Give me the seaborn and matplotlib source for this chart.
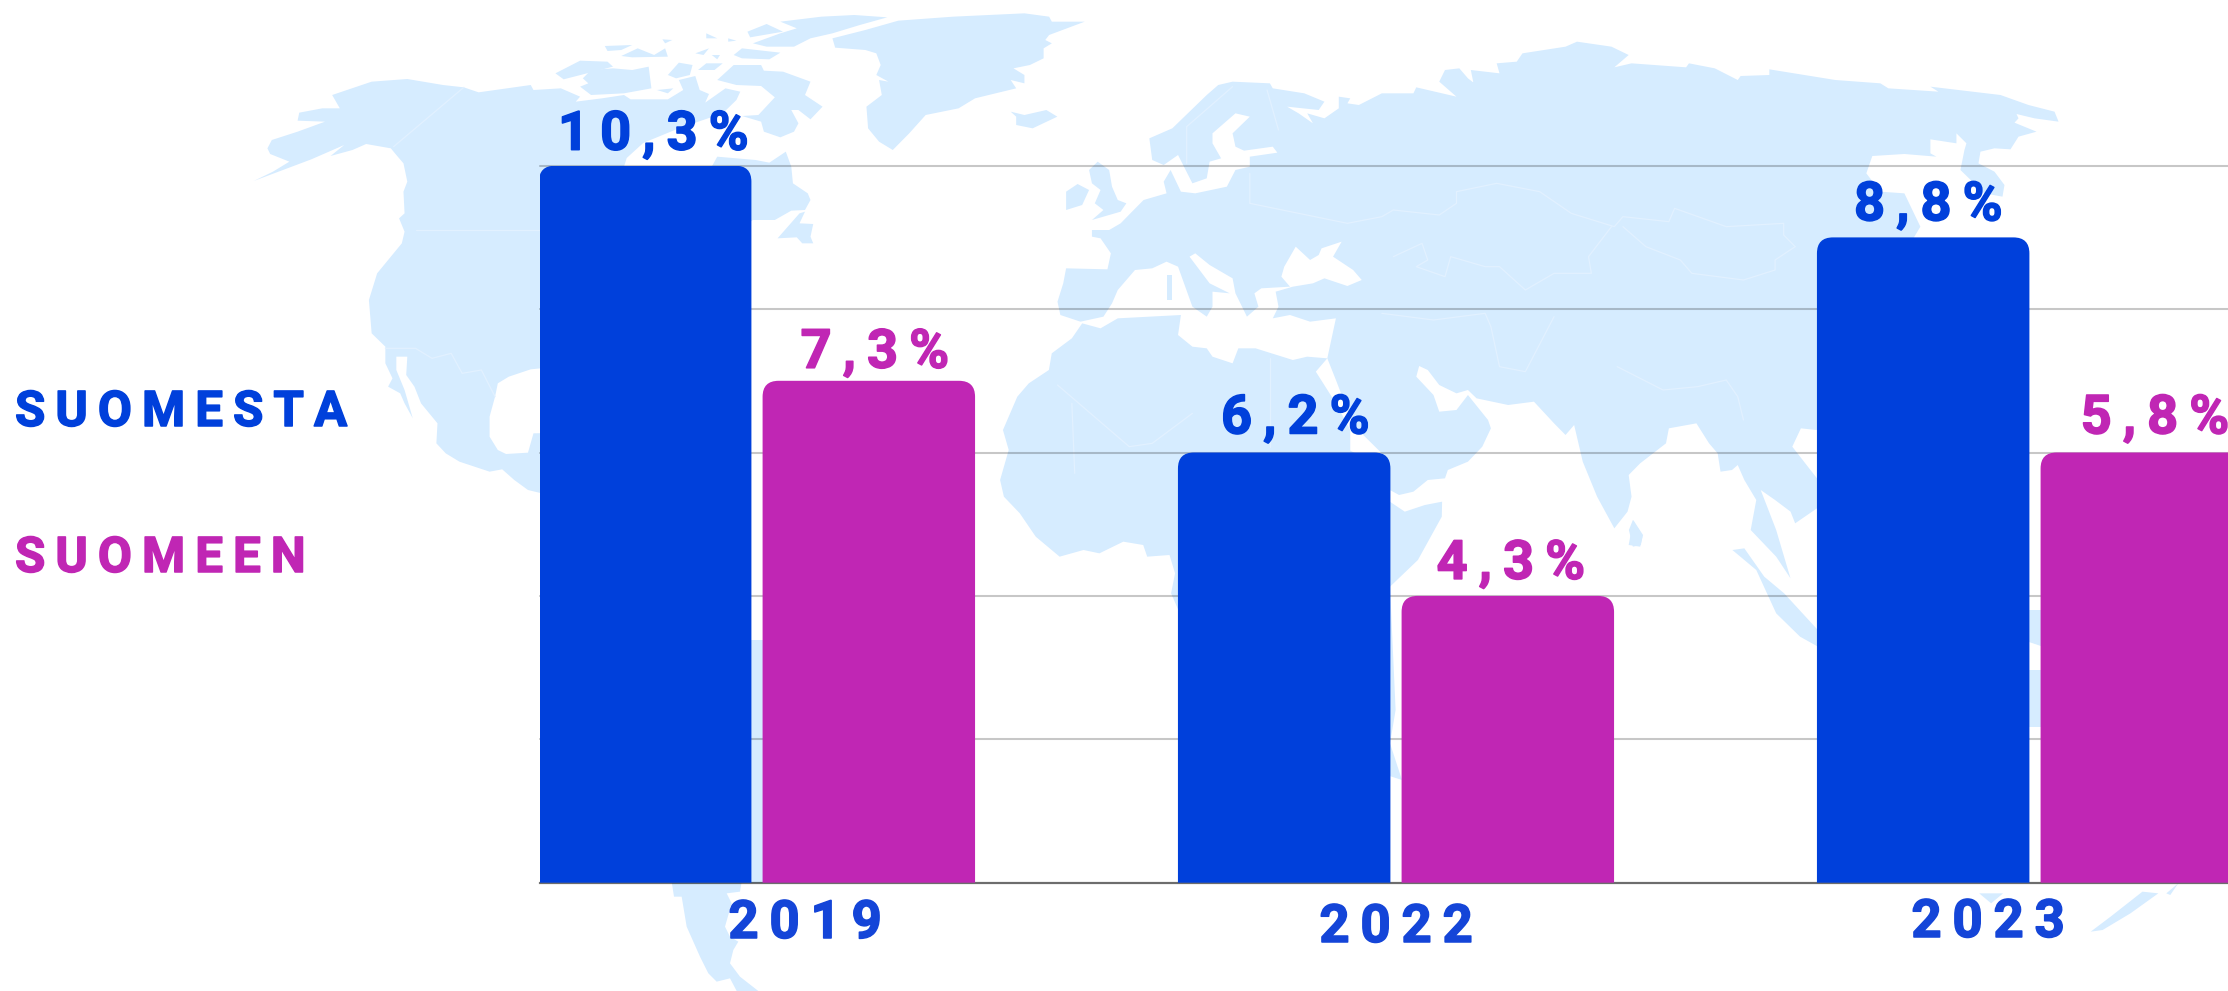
import matplotlib
matplotlib.use('Agg')
import matplotlib.pyplot as plt
import matplotlib.patheffects as pe
from matplotlib.patches import PathPatch, Polygon
from matplotlib.path import Path
import pandas as pd
import seaborn as sns

years = ['2019', '2022', '2023']
series = ['SUOMESTA', 'SUOMEEN']
suomesta = [10, 6, 9]
suomeen = [7, 4, 6]
suomesta_labels = ['10,3%', '6,2%', '8,8%']
suomeen_labels = ['7,3%', '4,3%', '5,8%']
grid_ticks = [0, 2, 4, 6, 8, 10]

BLUE = '#0040DB'
MAGENTA = '#C026B4'
YEAR_BLUE = '#1445D8'
LAND = '#D6ECFF'
BORDER = '#E2F1FF'
W, H = 2228, 991
PX_X = 639.0   # pixels per category
PX_Y = 71.7    # pixels per unit
LEFT, BASE, TOP = 540, 882.7, 165.7
CENTER = 757


def z5(pts):
    return [(240 + x / 1.823, y / 3) for x, y in pts]

def z6(pts):
    return [(980 + x / 1.742, 30 + y / 3) for x, y in pts]

def z7(pts):
    return [(1600 + x / 2.497, 40 + y / 3) for x, y in pts]

def z8(pts):
    return [(980 + x / 1.256, 480 + y / 3) for x, y in pts]

def z2(pts):
    return [(500 + x / 3, 800 + y / 3) for x, y in pts]


# background map outline, traced by hand
north_america = z5([(25,543),(60,515),(90,485),(55,462),(50,445),(58,420),(105,395),(155,365),(105,362),(108,338),
    (150,325),(182,325),(168,285),(240,245),(305,237),(370,255),(408,262),(435,277),(530,255),(535,270),(585,265),
    (620,290),(612,305),(660,295),(700,285),(712,298),(780,298),(808,270),(800,240),(830,228),(838,270),(855,282),
    (848,308),(885,265),(912,275),(905,300),(880,340),(800,385),(735,429),(705,474),(700,500),(860,500),(870,470),
    (940,480),(965,488),(995,455),(1005,500),(1008,550),(1035,580),(1040,600),(1030,630),(1005,632),(975,660),
    (935,660),(800,800),(548,1105),(530,1108),(490,1130),(470,1150),(465,1190),(455,1250),(455,1310),(470,1350),
    (485,1362),(525,1358),(535,1300),(600,1298),(600,1500),(525,1470),(500,1440),(478,1408),(455,1415),(400,1385),
    (375,1360),(358,1330),(360,1270),(330,1210),(318,1160),(303,1125),(305,1070),(285,1070),(285,1110),(300,1170),
    (315,1255),(300,1210),(292,1180),(270,1160),(278,1135),(265,1090),(265,1040),(240,1000),(235,900),(250,820),
    (295,730),(300,695),(290,655),(300,640),(298,575),(305,545),(298,490),(285,465),(275,445),(230,432),(205,450),
    (165,468),(190,435),(130,478)])
greenland = z5([(1080,115),(1140,90),(1200,62),(1300,50),(1430,40),(1475,50),(1480,65),(1540,65),(1475,105),(1468,120),
    (1480,130),(1465,145),(1465,175),(1440,195),(1410,205),(1430,225),(1430,250),(1405,240),(1415,265),(1340,295),
    (1310,325),(1250,345),(1220,400),(1190,450),(1165,425),(1145,385),(1142,320),(1170,285),(1165,240),(1182,245),
    (1160,225),(1168,195),(1160,160),(1140,150),(1085,143)])
baffin = z5([(870,240),(900,195),(950,195),(955,212),(990,215),(1040,245),(1030,285),(1062,320),(1040,358),(1018,330),
    (1005,330),(1018,370),(1010,395),(985,412),(955,395),(950,365),(915,348),(945,345),(975,292),(950,258),(905,255)])
arctic = [z5(p) for p in [
    [(985,65),(1060,50),(1120,45),(1180,52),(1130,75),(1080,100),(1040,115),(1010,140),(960,140),(935,130),(985,100),(1015,85)],
    [(925,95),(960,72),(990,95),(930,112)],
    [(850,100),(870,115),(850,115)],
    [(890,115),(905,122),(890,125)],
    [(770,118),(788,120),(775,130)],
    [(665,138),(715,135),(695,150),(670,153)],
    [(695,168),(725,145),(755,165),(775,145),(780,170),(715,172)],
    [(830,160),(855,145),(845,165)],
    [(900,165),(915,145),(985,158),(965,178),(915,175)],
    [(860,165),(875,165),(870,178)],
    [(575,220),(620,182),(670,185),(680,200),(590,238)],
    [(640,210),(680,205),(715,210),(745,200),(750,265),(700,280),(640,285),(620,260),(635,250),(625,235)],
    [(780,225),(800,188),(825,195),(820,225),(795,235)],
    [(835,210),(850,190),(880,190),(865,210)],
    [(760,270),(790,265),(780,280)],
    [(980,715),(1020,640),(1030,635),(1020,670),(1045,672),(1040,710),(1045,730),(1025,730),(1015,712)],
    [(1405,335),(1430,345),(1470,330),(1490,350),(1445,385),(1415,375),(1415,350)],
]]
south_america = z2([(515,245),(522,290),(545,290),(560,380),(600,470),(625,520),(650,545),(690,535),(710,573),(775,573),
    (720,530),(690,490),(700,450),(715,425),(690,410),(675,380),(695,310),(680,280),(720,275),(725,245)])
south_america_hidden = [(700, 640), (880, 640), (800, 883), (600, 883)]

eurasia = (
    z6([(295,325),(335,295),(365,245),(395,195),(415,165),(440,155),(505,160),(510,175),(565,190),(600,215),(590,240),
        (535,230),(555,250),(580,280),(570,250),(600,265),(625,235),(625,200),(645,205),(640,220),(660,225),(700,190),
        (755,190),(760,172),(830,200),(800,155),(810,120),(835,115),(850,145),(880,185),(885,210),(875,240),(852,235),
        (865,205),(855,120),(905,130),(900,100),(935,95),(945,70),(1020,50),(1040,35),(1100,50),(1130,75),(1105,112),
        (1135,100),(1230,112),(1235,100),(1280,115),(1320,150),(1325,138),(1375,135),(1375,118),(1490,150)])
    + z7([(700,130),(720,145),(845,155),(825,140),(1000,165),(1070,195),(1135,215),(1145,245),(1085,235),(1040,222),
        (1045,235),(1035,248),(1090,275),(1045,290),(1025,328),(985,325),(950,335),(945,370),(985,395),(1010,435),
        (1005,470),(960,460),(900,390),(910,330),(915,310),(890,280),(890,310),(825,298),(825,340),(840,350),(760,342),
        (680,348),(665,400),(700,455),(760,460),(800,560),(770,620),(700,1100),(540,1170)])
    + z6([(1430,1195),(1415,1250),(1458,1345),(1458,1435),(1420,1480),(1412,1445),(1385,1410),(1360,1380)])
    + z8([(1000,150),(1018,295),(1000,230),(968,150),(975,60),(960,0)])
    + z6([(1320,1305),(1310,1320),(1290,1325),(1285,1270),(1270,1240),(1248,1180),(1200,1195),(1195,1240),(1150,1300),
        (1130,1335),(1135,1400),(1128,1445),(1105,1495),(1075,1400),(1050,1295),(1035,1185),(1020,1215),(1000,1180),
        (965,1115),(920,1125),(865,1105),(850,1080),(830,1090),(800,1065),(780,1020),(765,1008),(760,1040),(790,1095),
        (800,1145),(830,1140),(850,1095),(885,1170),(890,1195),(875,1250),(850,1295),(815,1320),(810,1345),(780,1350),
        (755,1385),(730,1395),(714,1380),(700,1270),(650,1185),(620,1050),(605,985),(620,865),(575,875),(540,855),
        (510,865),(520,830),(515,785),(545,770),(580,760),(600,745),(640,768),(665,750),(650,720),(615,680),(630,635),
        (595,655),(590,675),(575,690),(550,650),(530,710),(525,740),(540,770),(490,775),(478,790),(485,830),(465,860),
        (445,790),(440,745),(400,705),(375,670),(365,680),(400,760),(435,790),(405,785),(405,830),(395,860),(370,830),
        (345,710),(325,695),(300,715),(270,720),(240,780),(230,820),(215,860),(175,875),(140,855),(135,815),(145,760),
        (150,715),(222,718),(228,670),(210,625),(195,620),(195,600),(225,600),(245,580),(262,550),(285,510),(325,490),
        (320,455),(332,420),(350,485),(375,490),(430,470),(445,420),(470,410),(470,380),(518,368),(510,350),(460,362),
        (445,350),(440,310),(470,260),(445,250),(405,310),(405,340),(420,385),(400,395),(395,445),(370,460),(345,375),
        (320,405),(300,390)])
)
africa = (
    z6([(35,1350),(50,1260),(40,1200),(65,1100),(85,1060),(120,1020),(125,970),(160,925),(178,880),(210,895),(240,865),
        (350,855),(345,915),(370,950),(395,955),(405,980),(440,1000),(450,955),(480,955),(545,990),(570,980),(605,985),
        (585,1025),(620,1120),(645,1200),(645,1262),(690,1300),(714,1415),(740,1445),(775,1425),(805,1415)])
    + z8([(580,110),(550,240),(515,320),(522,690),(515,790),(530,900),(400,800),(250,395),(240,340),(245,280),(238,225),
        (210,230),(205,195),(180,185),(150,220),(130,210),(100,230),(70,170),(50,100),(30,50)])
)
islands = [z6(p) for p in [
    [(190,420),(205,395),(225,420),(230,470),(240,510),(255,520),(245,545),(195,570),(215,540),(200,520),(210,480),(195,460)],
    [(150,485),(170,462),(190,480),(178,525),(150,540),(150,510)],
    [(325,735),(335,735),(335,810),(325,810)],
    [(1138,1470),(1155,1515),(1150,1550),(1130,1545)],
]] + [z8(p) for p in [
    [(945,210),(960,205),(985,290),(1010,340),(1060,470),(1060,510),(1030,470),(1000,400),(975,270)],
    [(820,120),(832,170),(830,195),(820,200),(815,150)],
    [(1395,1355),(1420,1310),(1460,1235),(1480,1240),(1445,1300),(1410,1350)],
    [(1490,1240),(1505,1210),(1495,1245)],
    [(1255,1240),(1285,1240),(1270,1270)],
    [(1310,390),(1335,390),(1335,500),(1310,480)],
    [(1310,570),(1335,570),(1335,740),(1310,740)],
]]
# faint country borders
borders = [z5(p) for p in [
    [(408,262),(280,440)],
    [(320,690),(548,690)],
    [(265,1045),(320,1045),(350,1075),(385,1060),(405,1120),(440,1110),(465,1190)],
]] + [z6(p) for p in [
    [(640,580),(700,560),(720,540),(800,555),(830,520),(830,485),(900,460),(975,485),(1030,550),(1105,590),(1120,560),
     (1200,575),(1210,535),(1300,590),(1400,580),(1400,615),(1420,650)],
    [(1120,590),(1160,650),(1220,690),(1240,730),(1330,750),(1385,720),(1385,690),(1420,650)],
    [(720,680),(770,640),(780,690),(760,710),(810,740),(820,680),(880,710),(905,710),(950,780),(1000,730),(1065,730),
     (1060,680),(1100,590)],
    [(135,1065),(260,1250),(300,1240),(370,1150)],
    [(505,985),(505,1250)],
    [(160,1120),(165,1330)],
    [(700,850),(790,870),(880,850),(890,890),(905,1010),(950,1025),(1000,860)],
    [(1110,1010),(1190,1080),(1250,1070),(1300,1050),(1320,1100),(1330,1170)],
    [(500,180),(520,300)],
    [(440,170),(360,290),(360,400)],
    [(470,430),(470,520),(640,580)],
]]

# pixel offsets for the texts, they are not centred in the source
label_dx = [[8, 11, 5], [6, 3, 8]]
label_dy = [[16, 19, 17], [13, 17, 19]]
year_x = [805, 1396, 1988]
year_y = [938, 942, 937]


def track(s):
    return '\u2009'.join(s)


sns.set_theme(style='white')
plt.rcParams['font.family'] = ['Roboto', 'DejaVu Sans']

fig = plt.figure(figsize=(W / 100, H / 100), dpi=100)
fig.patch.set_facecolor('white')

bg = fig.add_axes([0, 0, 1, 1], zorder=0)
bg.set_xlim(0, W)
bg.set_ylim(H, 0)
bg.axis('off')
shapes = [north_america, greenland, baffin, south_america, south_america_hidden, eurasia, africa] + arctic + islands
for pts in shapes:
    bg.add_patch(Polygon(pts, closed=True, fc=LAND, ec='none'))
for pts in borders:
    bg.plot([p[0] for p in pts], [p[1] for p in pts], color=BORDER, lw=0.9)

ax = fig.add_axes([LEFT / W, (H - BASE) / H, (W - LEFT) / W, (BASE - TOP) / H], zorder=1)
ax.patch.set_alpha(0)

df = pd.DataFrame({
    'year': years * 2,
    'suunta': [series[0]] * 3 + [series[1]] * 3,
    'arvo': suomesta + suomeen,
})
sns.barplot(data=df, x='year', y='arvo', hue='suunta', hue_order=series, palette=[BLUE, MAGENTA],
            width=0.7, gap=0.05, legend=False, ax=ax, saturation=1, zorder=3)

ax.set_xlim((LEFT - CENTER) / PX_X, (W - CENTER) / PX_X)
ax.set_ylim(0, (BASE - TOP) / PX_Y)
ax.set_yticks(grid_ticks)
ax.set_xticks([])
ax.set_xlabel('')
ax.set_ylabel('')
ax.tick_params(left=False, labelleft=False)
ax.grid(axis='y', color='black', alpha=0.22, lw=1.5, clip_on=False)
ax.set_axisbelow(True)
sns.despine(ax=ax, left=True, top=True, right=True)
ax.spines['bottom'].set_color((0, 0, 0, 0.45))
ax.spines['bottom'].set_linewidth(1.6)

heavy = [pe.withStroke(linewidth=1.1, foreground=BLUE)]
heavy_m = [pe.withStroke(linewidth=1.1, foreground=MAGENTA)]
heavy_y = [pe.withStroke(linewidth=1.1, foreground=YEAR_BLUE)]

# round the top corners of the bars
rx, ry = 16 / PX_X, 16 / PX_Y
for c, labels, dxs, dys, col, fx in zip(ax.containers, [suomesta_labels, suomeen_labels], label_dx, label_dy,
                                        [BLUE, MAGENTA], [heavy, heavy_m]):
    for bar, txt, dx, dy in zip(c, labels, dxs, dys):
        x0, w, h = bar.get_x(), bar.get_width(), bar.get_height()
        x1 = x0 + w
        verts = [(x0, 0), (x0, h - ry), (x0, h), (x0 + rx, h), (x1 - rx, h), (x1, h), (x1, h - ry), (x1, 0), (x0, 0)]
        codes = [Path.MOVETO, Path.LINETO, Path.CURVE3, Path.CURVE3, Path.LINETO, Path.CURVE3, Path.CURVE3, Path.LINETO, Path.CLOSEPOLY]
        ax.add_patch(PathPatch(Path(verts, codes), fc=col, ec='none', zorder=3))
        bar.set_visible(False)
        ax.annotate(track(txt), (x0 + w / 2, h), xytext=(dx * 0.72, dy * 0.72), textcoords='offset points',
                    ha='center', va='baseline', color=col, fontsize=39, fontweight='bold', annotation_clip=False,
                    path_effects=fx)

for yr, x, y in zip(years, year_x, year_y):
    fig.text(x / W, 1 - y / H, track(yr), color=YEAR_BLUE, fontsize=38, fontweight='bold', ha='center', va='baseline',
             path_effects=heavy_y)

fig.text(15 / W, 1 - 426 / H, track(series[0]), color=BLUE, fontsize=35.5, fontweight='bold', va='baseline',
         path_effects=heavy)
fig.text(15 / W, 1 - 572 / H, track(series[1]), color=MAGENTA, fontsize=35.5, fontweight='bold', va='baseline',
         path_effects=heavy_m)

fig.savefig('out.png', dpi=100)
plt.close(fig)
